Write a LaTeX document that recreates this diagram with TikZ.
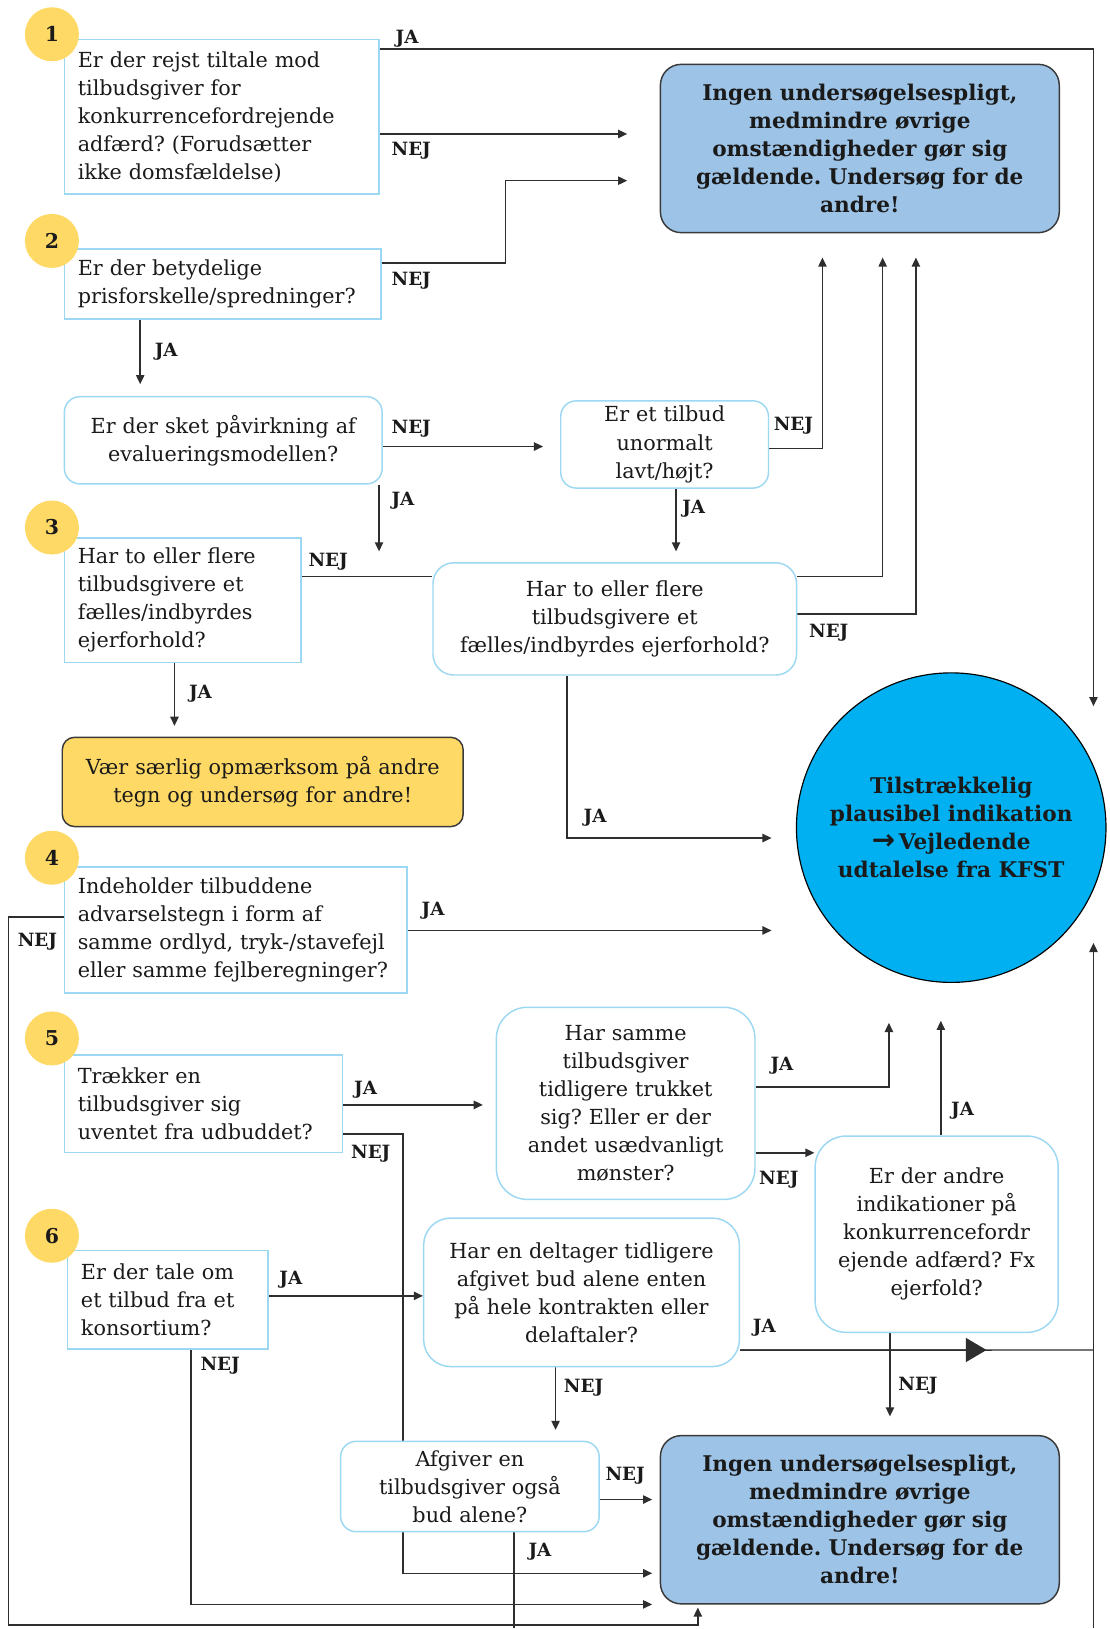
\documentclass[tikz,border=0pt]{standalone}
\usepackage{fontspec}
\setmainfont{DejaVu Serif}
\newfontfamily\arrowfont{DejaVu Sans}
\usepackage{xcolor}
\usetikzlibrary{arrows.meta,positioning}
\pgfdeclarelayer{paper}
\pgfdeclarelayer{wires}
\pgfsetlayers{paper,wires,main}
\frenchspacing
\definecolor{Ink}{HTML}{1A1A1A}
\definecolor{Wire}{HTML}{2E2E2E}
\definecolor{QEdge}{HTML}{9DD8F2}
\definecolor{Gold}{HTML}{FFD966}
\definecolor{PaleBlue}{HTML}{9DC3E6}
\definecolor{Cyan}{HTML}{00B0F0}
\definecolor{Frame}{HTML}{3A3A3A}
\newcommand{\boxfont}{\fontsize{14.2pt}{19.2pt}\selectfont}
\newcommand{\strongfont}{\fontsize{14.8pt}{19.2pt}\selectfont\bfseries}
\newcommand{\tagfont}{\fontsize{12.5pt}{14pt}\selectfont\bfseries}
\newcommand{\digitfont}{\fontsize{14pt}{16pt}\selectfont\bfseries}

\begin{document}
\begin{tikzpicture}[
  x=0.025cm, y=-0.025cm,
  every node/.style={text=Ink},
  q/.style={draw=QEdge, line width=1pt, fill=white, inner xsep=0.325cm,
    inner ysep=0pt, font=\boxfont, align=left},
  qr/.style={q, rounded corners=0.375cm, align=center},
  ingen/.style={draw=Frame, line width=1pt, fill=PaleBlue, rounded corners=0.5cm,
    text width=8.95cm, minimum height=4.05cm, inner xsep=0.325cm, inner ysep=0pt,
    align=center, font=\strongfont},
  warn/.style={draw=Frame, line width=1pt, fill=Gold, rounded corners=0.3cm,
    text width=9cm, minimum height=2.15cm, inner xsep=0.325cm, inner ysep=0pt,
    align=center, font=\boxfont},
  num/.style={circle, fill=Gold, minimum size=1.3cm, inner sep=0pt, font=\digitfont},
  lbl/.style={font=\tagfont, inner sep=0pt},
  link/.style={draw=Wire, line width=1pt},
  flow/.style={link, -{Triangle[length=2.2mm,width=2mm]}},
  bigflow/.style={link, -{Triangle[length=5mm,width=5.8mm]}}
]
  \begin{pgfonlayer}{paper}
  \path[use as bounding box, fill=white] (0,0) rectangle (1068,1568);
  \end{pgfonlayer}

  \node[q, text width=6.925cm, minimum height=3.725cm] (q1) at (213.5,112.5)
    {Er der rejst tiltale mod\\tilbudsgiver for\\konkurrencefordrejende\\adfærd? (Forudsætter\\ikke domsfældelse)};
  \node[q, text width=6.975cm, minimum height=1.675cm] (q2) at (214.5,273.5)
    {Er der betydelige\\prisforskelle/spredninger?};
  \node[qr, text width=7cm, minimum height=2.1cm] (qp) at (215,424)
    {Er der sket påvirkning af\\evalueringsmodellen?};
  \node[qr, text width=4.35cm, minimum height=2.1cm] (qu) at (640,428)
    {Er et tilbud\\unormalt\\lavt/højt?};
  \node[q, text width=5.05cm, minimum height=3cm] (q3) at (176,578)
    {Har to eller flere\\tilbudsgivere et\\fælles/indbyrdes\\ejerforhold?};
  \node[qr, rounded corners=0.5cm, text width=8.1cm, minimum height=2.7cm] (qe) at (592,596)
    {Har to eller flere\\tilbudsgivere et\\fælles/indbyrdes ejerforhold?};
  \node[warn] (warn) at (253,753)
    {Vær særlig opmærksom på andre\\tegn og undersøg for andre!};
  \node[ingen] (ingenTop) at (828,143)
    {Ingen undersøgelsespligt,\\medmindre øvrige\\omstændigheder gør sig\\gældende. Undersøg for de\\andre!};
  \node[circle, draw=black, line width=0.8pt, fill=Cyan, minimum size=7.45cm, inner sep=0pt,
    align=center, font=\strongfont] (kfst) at (916,797)
    {Tilstrækkelig\\plausibel indikation\\{\arrowfont\bfseries\fontsize{19pt}{19.2pt}\selectfont →}\,Vejledende\\udtalelse fra KFST};
  \node[q, text width=7.6cm, minimum height=3.025cm] (q4) at (227,895.5)
    {Indeholder tilbuddene\\advarselstegn i form af\\samme ordlyd, tryk-/stavefejl\\eller samme fejlberegninger?};
  \node[q, text width=6.05cm, minimum height=2.35cm] (q5) at (196,1063)
    {Trækker en\\tilbudsgiver sig\\uventet fra udbuddet?};
  \node[qr, rounded corners=0.75cm, text width=5.575cm, minimum height=4.625cm] (qs) at (602.5,1062.5)
    {Har samme\\tilbudsgiver\\tidligere trukket\\sig? Eller er der\\andet usædvanligt\\mønster?};
  \node[qr, rounded corners=0.75cm, text width=5.2cm, minimum height=4.725cm] (qa) at (902,1188.5)
    {Er der andre\\indikationer på\\konkurrencefordr\\ejende adfærd? Fx\\ejerfold?};
  \node[q, text width=4.175cm, minimum height=2.375cm] (q6) at (161.5,1251.5)
    {Er der tale om\\et tilbud fra et\\konsortium?};
  \node[qr, rounded corners=0.65cm, text width=6.95cm, minimum height=3.575cm] (qd) at (560,1244.5)
    {Har en deltager tidligere\\afgivet bud alene enten\\på hele kontrakten eller\\delaftaler?};
  \node[qr, text width=5.575cm, minimum height=2.175cm] (qb) at (452.5,1431.5)
    {Afgiver en\\tilbudsgiver også\\bud alene?};
  \node[ingen] (ingenBot) at (828,1463.5)
    {Ingen undersøgelsespligt,\\medmindre øvrige\\omstændigheder gør sig\\gældende. Undersøg for de\\andre!};

  \node[num] (n1) at (50,33) {1};
  \node[num] (n2) at (50,232) {2};
  \node[num] (n3) at (50,508) {3};
  \node[num] (n4) at (50,826) {4};
  \node[num] (n5) at (50,1000) {5};
  \node[num] (n6) at (50,1190) {6};

  \coordinate (k1) at (1053,680);
  \coordinate (k2) at (743,807);
  \coordinate (k3) at (743,896);
  \coordinate (k4) at (1053,908);
  \coordinate (t1) at (604,129);
  \coordinate (t2) at (604,174);
  \coordinate (t3) at (523,430);
  \coordinate (t4) at (465,1064);
  \coordinate (t5) at (628,1515);
  \coordinate (t6) at (628,1545);
  \coordinate (t7) at (628,1444);
  \coordinate (u1) at (792,248);
  \coordinate (u2) at (850,248);
  \coordinate (u3) at (882,248);
  \coordinate (u4) at (856,985);
  \coordinate (u5) at (906,983);
  \coordinate (d2) at (135,370);
  \coordinate (d3) at (365,531);
  \coordinate (d4) at (651,531);
  \coordinate (d5) at (168,699);
  \coordinate (d6) at (857,1364);
  \coordinate (d7) at (535,1377);
  \coordinate (g1) at (672,1548);
  \coordinate (m1) at (950,1300);
  \coordinate (j1) at (1053,1300);
  \coordinate (b1) at (1053,1568);
  \coordinate (b2) at (495,1568);

  \begin{pgfonlayer}{wires}
  \draw[flow] ([yshift=-0.25cm]q1.north east) -| (k1);
  \draw[flow] (q1.east |- t1) -- (t1);
  \draw[flow] ([yshift=-0.35cm]q2.north east) -- ++(119,0) |- (t2);
  \draw[flow] (q2.south -| d2) -- (d2);
  \draw[flow] (qp.east |- t3) -- (t3);
  \draw[flow] (qp.south -| d3) -- (d3);
  \draw[flow] ([yshift=-0.1cm]qu.east) -| (u1);
  \draw[flow] (qu.south -| d4) -- (d4);
  \draw[link] ([yshift=-0.95cm]q3.north east) coordinate (s3) -- (qe.west |- s3);
  \draw[flow] ([yshift=-0.35cm]qe.north east) -| (u2);
  \draw[flow] ([yshift=-1.25cm]qe.north east) -| (u3);
  \draw[flow] ([xshift=-1.15cm]qe.south) |- (k2);
  \draw[flow] (q3.south -| d5) -- (d5);
  \draw[flow] (q4.east |- k3) -- (k3);
  \draw[flow] ([yshift=0.31cm]q4.west) -| (8,1565) -| (g1);
  \draw[flow] (q5.east |- t4) -- (t4);
  \draw[flow] ([yshift=-0.725cm]q5.east) -| (388,1515) -- (t5);
  \draw[flow] ([yshift=0.39cm]qs.east) -| (u4);
  \draw[flow] ([yshift=-1.19cm]qs.east) coordinate (s5) -- (qa.west |- s5);
  \draw[flow] (qa.north -| u5) -- (u5);
  \draw[flow] (qa.south -| d6) -- (d6);
  \draw[flow] ([yshift=0.09cm]q6.east) coordinate (s6) -- (qd.west |- s6);
  \draw[flow] ([xshift=0.56cm]q6.south) |- (t6);
  \draw[link] ([yshift=-1.39cm]qd.east) coordinate (s7) -- (j1);
  \draw[bigflow] (s7) -- (m1);
  \draw[flow] (b1) -- (k4);
  \draw[flow] (qd.south -| d7) -- (d7);
  \draw[flow] (qb.east |- t7) -- (t7);
  \draw[link] (qb.south -| b2) -- (b2);
  \end{pgfonlayer}

  \node[lbl] (ja1) at (392,37) {JA};
  \node[lbl] (nej1) at (396,145) {NEJ};
  \node[lbl] (nej2) at (396,270) {NEJ};
  \node[lbl] (ja2) at (160,339) {JA};
  \node[lbl] (nej3) at (396,413) {NEJ};
  \node[lbl] (ja3) at (388,482) {JA};
  \node[lbl] (nej4) at (764,410) {NEJ};
  \node[lbl] (ja4) at (668,490) {JA};
  \node[lbl] (nej5) at (316,541) {NEJ};
  \node[lbl] (nej6) at (798,609) {NEJ};
  \node[lbl] (ja5) at (573,787) {JA};
  \node[lbl] (ja6) at (193,668) {JA};
  \node[lbl] (ja7) at (417,877) {JA};
  \node[lbl] (nej7) at (36,907) {NEJ};
  \node[lbl] (ja8) at (352,1049) {JA};
  \node[lbl] (nej8) at (357,1111) {NEJ};
  \node[lbl] (ja9) at (753,1026) {JA};
  \node[lbl] (nej9) at (750,1136) {NEJ};
  \node[lbl] (ja10) at (927,1070) {JA};
  \node[lbl] (nej10) at (884,1334) {NEJ};
  \node[lbl] (ja11) at (280,1232) {JA};
  \node[lbl] (nej11) at (212,1315) {NEJ};
  \node[lbl] (ja12) at (736,1279) {JA};
  \node[lbl] (nej12) at (562,1336) {NEJ};
  \node[lbl] (nej13) at (602,1421) {NEJ};
  \node[lbl] (ja13) at (520,1494) {JA};
\end{tikzpicture}
\end{document}
